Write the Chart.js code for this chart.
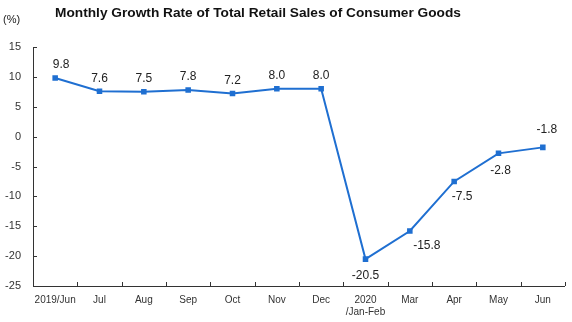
<!DOCTYPE html>
<html>
<head>
<meta charset="utf-8">
<script src="https://cdn.jsdelivr.net/npm/chart.js@4"></script>
<style>
  html, body { margin: 0; padding: 0; background: #fff; }
  #wrap { position: relative; width: 572px; height: 322px; }
</style>
</head>
<body>
<div id="wrap"><canvas id="retail"></canvas></div>
<script>
const months = ["2019/Jun", "Jul", "Aug", "Sep", "Oct", "Nov", "Dec", ["2020", "/Jan-Feb"], "Mar", "Apr", "May", "Jun"];
const growth = [9.8, 7.6, 7.5, 7.8, 7.2, 8.0, 8.0, -20.5, -15.8, -7.5, -2.8, -1.8];
// where each value label sits relative to its point: [dx, dy]
const labelShift = [[6, -13], [0, -13], [0, -13], [0, -13], [0, -13], [0, -13], [0, -13], [0, 17], [17, 15], [8, 15], [2, 17], [4, -18]];
const titleText = "Monthly Growth Rate of Total Retail Sales of Consumer Goods";

const axisColor = "#333";

const extras = {
  id: "extras",
  afterDraw(chart) {
    const { ctx, chartArea: a, scales: { x, y } } = chart;
    ctx.save();
    ctx.strokeStyle = axisColor;
    ctx.lineWidth = 1;
    ctx.beginPath();
    ctx.moveTo(a.left + 0.5, a.top);
    ctx.lineTo(a.left + 0.5, a.bottom + 0.5);
    ctx.lineTo(a.right, a.bottom + 0.5);
    // inward ticks on y axis
    y.ticks.forEach((t) => {
      const py = Math.round(y.getPixelForValue(t.value)) + 0.5;
      ctx.moveTo(a.left, py);
      ctx.lineTo(a.left + 4, py);
    });
    // ticks between categories on x axis
    const step = (a.right - a.left) / months.length;
    for (let i = 1; i <= months.length; i++) {
      const px = Math.round(a.left + step * i) + 0.5;
      ctx.moveTo(px, a.bottom);
      ctx.lineTo(px, a.bottom - 4);
    }
    ctx.stroke();

    // value labels
    ctx.fillStyle = "#222";
    ctx.font = "12px 'Liberation Sans', Arial, sans-serif";
    ctx.textAlign = "center";
    ctx.textBaseline = "middle";
    const meta = chart.getDatasetMeta(0);
    meta.data.forEach((pt, i) => {
      const [dx, dy] = labelShift[i];
      ctx.fillText(growth[i].toFixed(1), pt.x + dx, pt.y + dy);
    });

    // title
    ctx.fillStyle = "#111";
    ctx.font = "bold 13.7px 'Liberation Sans', Arial, sans-serif";
    ctx.fillText(titleText, 258, 13);

    // unit
    ctx.fillStyle = "#222";
    ctx.font = "11px 'Liberation Sans', Arial, sans-serif";
    ctx.textAlign = "left";
    ctx.fillText("(%)", 3, 20);
    ctx.restore();
  },
};

new Chart(document.getElementById("retail"), {
  type: "line",
  data: {
    labels: months,
    datasets: [
      {
        data: growth,
        borderColor: "#1f6fd1",
        backgroundColor: "#1f6fd1",
        borderWidth: 2,
        pointStyle: "rect",
        pointRadius: 2.5,
        tension: 0,
      },
    ],
  },
  options: {
    responsive: true,
    maintainAspectRatio: false,
    animation: false,
    layout: { padding: { top: 47, right: 7, left: 0, bottom: 0 } },
    plugins: {
      legend: { display: false },
      tooltip: { enabled: false },
      title: { display: false },
    },
    scales: {
      x: {
        offset: true,
        border: { display: false },
        grid: { display: false, drawTicks: false },
        afterFit(s) { s.height = 36; },
        ticks: {
          color: "#333",
          maxRotation: 0,
          autoSkip: false,
          padding: 8,
          font: { family: "'Liberation Sans Narrow', 'Liberation Sans', Arial, sans-serif", size: 10 },
        },
      },
      y: {
        min: -25,
        max: 15,
        border: { display: false },
        grid: { display: false, drawTicks: false },
        afterFit(s) { s.width = 33; },
        ticks: {
          stepSize: 5,
          color: "#333",
          padding: 12,
          font: { family: "'Liberation Sans', Arial, sans-serif", size: 11 },
        },
      },
    },
  },
  plugins: [extras],
});
</script>
</body>
</html>
